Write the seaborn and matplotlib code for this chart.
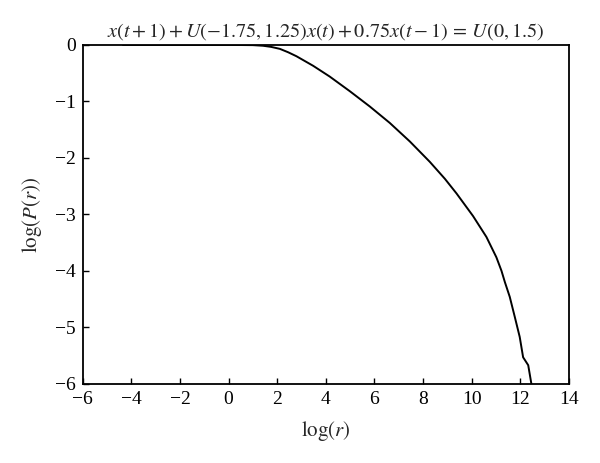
import matplotlib
matplotlib.use('Agg')
import matplotlib.pyplot as plt
import seaborn as sns
import pandas as pd

# curve
log_r = [-4.35, -2.0, 0.0, 1.0, 1.42, 1.75, 2.11, 2.45, 2.79, 3.48, 4.16, 4.99,
         5.81, 6.63, 7.46, 8.28, 8.9, 9.38, 10.06, 10.61, 11.02, 11.23, 11.37,
         11.57, 11.78, 11.98, 12.12, 12.33, 12.46]
log_p = [0.0, 0.0, 0.0, -0.004, -0.015, -0.035, -0.07, -0.13, -0.20, -0.37,
         -0.56, -0.82, -1.09, -1.38, -1.71, -2.07, -2.37, -2.63, -3.03, -3.40,
         -3.76, -4.0, -4.2, -4.46, -4.82, -5.17, -5.53, -5.67, -6.0]
xticks = [-6, -4, -2, 0, 2, 4, 6, 8, 10, 12, 14]
yticks = [0, -1, -2, -3, -4, -5, -6]

df = pd.DataFrame({'log_r': log_r, 'log_p': log_p})

sns.set_style('ticks')
plt.rcParams['font.family'] = ['Liberation Serif', 'DejaVu Serif']
plt.rcParams['mathtext.fontset'] = 'stix'

fig = plt.figure(figsize=(6, 4.63), dpi=100)
ax = fig.add_axes([0.138, 0.171, 0.81, 0.732])

sns.lineplot(data=df, x='log_r', y='log_p', color='black', linewidth=1.4, ax=ax)

ax.set_xlim(-6, 14)
ax.set_ylim(-6, 0)
ax.set_xticks(xticks)
ax.set_yticks(yticks)
ax.set_xticklabels(['\u2212' + str(-t) if t < 0 else str(t) for t in xticks])
ax.set_yticklabels(['\u2212' + str(-t) if t < 0 else str(t) for t in yticks])
ax.tick_params(direction='in', length=4, width=1, labelsize=14, colors='black',
               top=False, right=False, pad=5)
for s in ax.spines.values():
    s.set_linewidth(1.3)
    s.set_color('black')

ax.set_xlabel(r'$\log(r)$', fontsize=15, labelpad=8)
ax.set_ylabel(r'$\log(P(r))$', fontsize=15, labelpad=8)
ax.set_title(r'$x(t+1) + U(-1.75, 1.25)x(t) + 0.75x(t-1)\, =\, U(0, 1.5)$',
             fontsize=14.6, pad=6)

fig.savefig('out.png', dpi=100)
